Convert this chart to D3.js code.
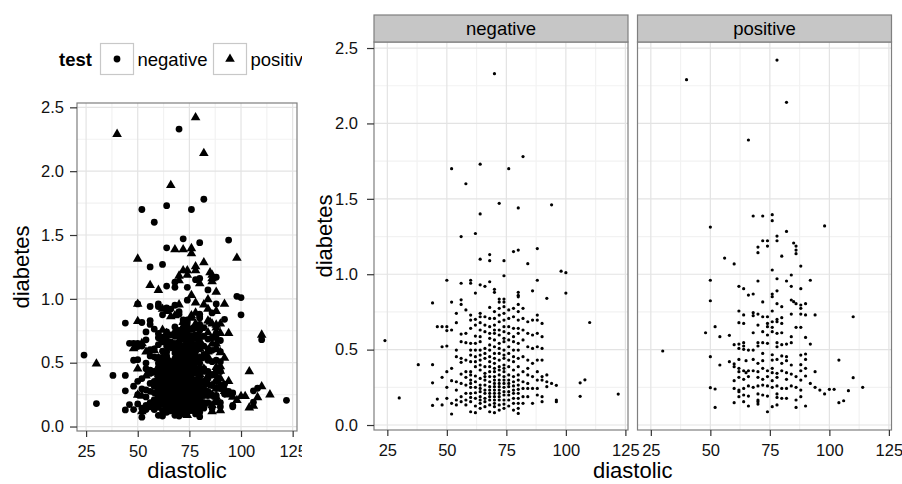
<!DOCTYPE html>
<html>
<head>
<meta charset="utf-8">
<script src="https://cdn.jsdelivr.net/npm/d3@7"></script>
<style>
  body { margin: 0; background: #fff; }
  svg { display: block; font-family: "Liberation Sans", Arial, Helvetica, sans-serif; }
</style>
</head>
<body>
<svg width="902" height="484"></svg>
<script>
const xTicks = [25, 50, 75, 100, 125];
const yTicks = [0, 0.5, 1, 1.5, 2, 2.5];
const xMinor = [37.5, 62.5, 87.5, 112.5];
const yMinor = [0.25, 0.75, 1.25, 1.75, 2.25];
const facets = ['negative', 'positive'];

// test = negative : isolated points
const negOutliers = [
  [24, 0.56], [30, 0.18], [38, 0.40], [44, 0.40], [44, 0.28], [44, 0.13],
  [106, 0.28], [108, 0.30], [106, 0.19], [122, 0.205], [110, 0.68]
];
// test = negative : upper part (diabetes >= 0.78)
const negUpper = [
  [70, 2.33], [82, 1.78], [52, 1.70], [64, 1.73], [76, 1.70], [58, 1.60], [72, 1.47], [80, 1.44],
  [94, 1.46], [64, 1.40], [56, 1.25], [62, 1.27], [88, 1.17], [68, 1.13], [78, 1.15], [80, 1.16],
  [64, 1.10], [68, 1.09], [74, 1.09], [84, 1.07], [98, 1.02], [100, 1.01], [74, 0.99], [50, 0.96],
  [56, 0.94], [60, 0.96], [60, 0.94], [68, 0.95], [88, 0.96], [64, 0.93], [66, 0.92], [70, 0.90],
  [70, 0.88], [62, 0.875], [86, 0.89], [100, 0.875], [80, 0.88], [80, 0.86], [80, 0.85], [92, 0.84],
  [44, 0.81], [52, 0.815], [56, 0.83], [56, 0.80], [72, 0.835], [72, 0.815], [74, 0.835], [74, 0.815],
  [68, 0.78], [80, 0.80]
];
// test = negative : dense core, one row per diastolic value
const negCore = [
  [46, [0.652, 0.172]],
  [48, [0.652, 0.519, 0.316, 0.133]],
  [50, [0.652, 0.626, 0.524, 0.354, 0.250, 0.177]],
  [52, [0.630, 0.376, 0.294, 0.144, 0.073]],
  [54, [0.741, 0.679, 0.497, 0.453, 0.287, 0.232, 0.166, 0.133]],
  [56, [0.603, 0.553, 0.442, 0.416, 0.338, 0.276, 0.188, 0.155]],
  [58, [0.763, 0.608, 0.546, 0.431, 0.354, 0.316, 0.265, 0.210, 0.166, 0.133]],
  [60, [0.729, 0.696, 0.641, 0.542, 0.497, 0.464, 0.420, 0.354, 0.332, 0.298, 0.276, 0.250, 0.210, 0.183, 0.155, 0.088]],
  [62, [0.701, 0.663, 0.590, 0.542, 0.497, 0.453, 0.420, 0.387, 0.325, 0.287, 0.250, 0.214, 0.177, 0.126, 0.082]],
  [64, [0.741, 0.718, 0.679, 0.630, 0.586, 0.553, 0.497, 0.464, 0.431, 0.398, 0.365, 0.309, 0.265, 0.243, 0.221, 0.188, 0.166, 0.144, 0.111]],
  [66, [0.718, 0.663, 0.619, 0.508, 0.475, 0.442, 0.387, 0.343, 0.321, 0.298, 0.265, 0.232, 0.210, 0.177, 0.155, 0.122]],
  [68, [0.707, 0.652, 0.608, 0.575, 0.531, 0.497, 0.453, 0.420, 0.387, 0.354, 0.321, 0.287, 0.254, 0.232, 0.210, 0.188, 0.166, 0.133, 0.088]],
  [70, [0.752, 0.707, 0.663, 0.630, 0.608, 0.564, 0.519, 0.475, 0.442, 0.409, 0.376, 0.354, 0.321, 0.298, 0.276, 0.254, 0.232, 0.210, 0.188, 0.166, 0.144, 0.122, 0.082]],
  [72, [0.774, 0.729, 0.685, 0.630, 0.597, 0.542, 0.508, 0.475, 0.431, 0.387, 0.365, 0.332, 0.298, 0.276, 0.254, 0.232, 0.210, 0.188, 0.166, 0.133, 0.099]],
  [74, [0.785, 0.741, 0.696, 0.652, 0.619, 0.575, 0.553, 0.497, 0.464, 0.442, 0.398, 0.376, 0.354, 0.321, 0.298, 0.276, 0.250, 0.221, 0.199, 0.166, 0.139, 0.111]],
  [76, [0.763, 0.707, 0.652, 0.608, 0.564, 0.519, 0.475, 0.431, 0.387, 0.332, 0.298, 0.276, 0.254, 0.221, 0.199, 0.166, 0.126]],
  [78, [0.774, 0.718, 0.641, 0.586, 0.553, 0.497, 0.453, 0.420, 0.365, 0.321, 0.287, 0.259, 0.232, 0.210, 0.177, 0.144, 0.099]],
  [80, [0.752, 0.696, 0.641, 0.608, 0.542, 0.497, 0.442, 0.387, 0.332, 0.298, 0.265, 0.237, 0.210, 0.177, 0.144, 0.111, 0.077]],
  [82, [0.774, 0.707, 0.630, 0.564, 0.453, 0.354, 0.287, 0.243, 0.188, 0.144]],
  [84, [0.685, 0.608, 0.519, 0.431, 0.376, 0.332, 0.276, 0.243, 0.188]],
  [86, [0.696, 0.597, 0.508, 0.409, 0.321, 0.243, 0.144]],
  [88, [0.729, 0.696, 0.608, 0.519, 0.431, 0.354, 0.298, 0.243, 0.199]],
  [90, [0.674, 0.586, 0.508, 0.431, 0.321, 0.298, 0.188, 0.155]],
  [92, [0.332, 0.287, 0.254]],
  [94, [0.276]],
  [96, [0.263, 0.166, 0.155]]
];

// test = positive : upper part
const posUpper = [
  [78, 2.42], [40, 2.29], [82, 2.14], [66, 1.89],
  [68, 1.386], [72, 1.386], [76, 1.395], [76, 1.355], [50, 1.313], [98, 1.32], [82, 1.284],
  [72, 1.222], [74, 1.222], [78, 1.222], [78, 1.253], [70, 1.18], [74, 1.187],
  [85, 1.207], [86, 1.187], [86, 1.16], [86, 1.136], [70, 1.143], [80, 1.12], [56, 1.107],
  [60, 1.068], [88, 1.054], [76, 1.028], [84, 0.995],
  [50, 0.96], [70, 0.955], [78, 0.97], [82, 0.955], [92, 0.96], [62, 0.92], [64, 0.904], [84, 0.92], [88, 0.904],
  [66, 0.862], [68, 0.869], [76, 0.869], [76, 0.851], [78, 0.89], [50, 0.824], [72, 0.816],
  [84, 0.829], [85, 0.818], [86, 0.805], [78, 0.805], [80, 0.785], [88, 0.796], [88, 0.774], [90, 0.805],
  [62, 0.756], [64, 0.73], [68, 0.745], [68, 0.725], [70, 0.736], [72, 0.718], [74, 0.718], [76, 0.756],
  [80, 0.712], [84, 0.736], [88, 0.736], [90, 0.73], [94, 0.73], [110, 0.718], [78, 0.70]
];
// test = positive : lower part
const posLower = [
  [62, 0.679], [64, 0.674], [70, 0.663], [74, 0.674], [76, 0.685], [78, 0.685], [80, 0.674],
  [52, 0.652], [74, 0.652], [76, 0.648], [86, 0.648], [88, 0.648],
  [48, 0.612], [54, 0.586], [58, 0.595], [68, 0.612], [72, 0.619], [74, 0.597], [76, 0.619], [78, 0.608],
  [80, 0.612], [84, 0.586], [90, 0.581],
  [60, 0.533], [62, 0.537], [64, 0.546], [64, 0.524], [70, 0.546], [70, 0.524], [72, 0.546], [74, 0.542],
  [78, 0.546], [78, 0.519], [80, 0.533], [82, 0.537], [84, 0.546], [92, 0.537],
  [30, 0.491], [62, 0.508], [64, 0.502], [66, 0.497], [68, 0.497], [72, 0.475], [76, 0.466], [80, 0.458],
  [82, 0.453], [88, 0.464], [90, 0.471], [50, 0.453],
  [58, 0.420], [60, 0.405], [62, 0.435], [65, 0.427], [68, 0.435], [70, 0.409], [72, 0.427], [76, 0.431],
  [78, 0.435], [80, 0.409], [82, 0.427], [84, 0.398], [88, 0.400], [90, 0.435], [104, 0.431], [54, 0.398],
  [60, 0.387], [62, 0.376], [62, 0.354], [64, 0.360], [66, 0.360], [68, 0.360], [70, 0.354], [72, 0.376],
  [74, 0.360], [76, 0.376], [76, 0.347], [78, 0.343], [80, 0.360], [82, 0.347], [84, 0.338], [88, 0.360],
  [90, 0.376], [94, 0.354], [65, 0.347],
  [60, 0.294], [62, 0.316], [64, 0.303], [66, 0.321], [70, 0.316], [72, 0.303], [74, 0.321], [76, 0.294],
  [78, 0.316], [82, 0.303], [86, 0.321], [88, 0.298], [90, 0.325], [92, 0.276], [110, 0.314],
  [50, 0.248], [52, 0.239], [60, 0.243], [62, 0.232], [64, 0.243], [66, 0.259], [68, 0.250], [70, 0.259],
  [72, 0.265], [74, 0.259], [76, 0.250], [78, 0.259], [80, 0.243], [82, 0.243], [84, 0.259], [86, 0.250],
  [88, 0.232], [94, 0.250], [96, 0.232], [100, 0.237], [102, 0.237], [108, 0.228], [114, 0.250], [98, 0.206],
  [62, 0.221], [62, 0.188], [64, 0.199], [66, 0.192], [70, 0.206], [72, 0.199], [74, 0.192], [78, 0.206],
  [78, 0.183], [80, 0.177], [82, 0.177], [86, 0.166], [88, 0.188], [70, 0.166],
  [60, 0.148], [64, 0.155], [66, 0.126], [70, 0.155], [70, 0.139], [76, 0.122], [78, 0.133], [86, 0.117],
  [90, 0.126], [52, 0.117], [104, 0.148], [106, 0.161], [74, 0.088]
];

const negative = negOutliers.concat(negUpper,
  negCore.flatMap(([dia, peds]) => peds.map(p => [dia, p])))
  .map(([diastolic, diabetes]) => ({ diastolic, diabetes, test: 'negative' }));
const positive = posUpper.concat(posLower)
  .map(([diastolic, diabetes]) => ({ diastolic, diabetes, test: 'positive' }));

const svg = d3.select('svg');
const border = '#7f7f7f';
const tickFont = 16.5;
const titleFont = 22;
const labelFont = 18.5;

svg.append('rect').attr('width', 902).attr('height', 484).attr('fill', '#fff');

const drawGrid = (g, x, y) => {
  const [x0, x1] = x.range();
  const [y1, y0] = y.range();
  g.append('rect')
    .attr('x', x0).attr('y', y0)
    .attr('width', x1 - x0).attr('height', y1 - y0)
    .attr('fill', '#fff');
  const lines = [
    { v: xMinor, vert: true, c: '#f2f2f2' },
    { v: yMinor, vert: false, c: '#f2f2f2' },
    { v: xTicks, vert: true, c: '#e3e3e3' },
    { v: yTicks, vert: false, c: '#e3e3e3' }
  ];
  lines.forEach(l => {
    g.append('g').selectAll('line')
      .data(l.v.filter(d => l.vert ? (x(d) > x0 && x(d) < x1) : (y(d) < y1 && y(d) > y0)))
      .enter().append('line')
      .attr('x1', d => l.vert ? x(d) : x0)
      .attr('x2', d => l.vert ? x(d) : x1)
      .attr('y1', d => l.vert ? y0 : y(d))
      .attr('y2', d => l.vert ? y1 : y(d))
      .attr('stroke', l.c)
      .attr('stroke-width', 1.2);
  });
};

const drawBorder = (g, x, y) => {
  const [x0, x1] = x.range();
  const [y1, y0] = y.range();
  g.append('rect')
    .attr('x', x0).attr('y', y0)
    .attr('width', x1 - x0).attr('height', y1 - y0)
    .attr('fill', 'none')
    .attr('stroke', border)
    .attr('stroke-width', 1.2);
};

const styleAxis = (sel) => {
  sel.select('.domain').remove();
  sel.selectAll('.tick line').attr('stroke', '#333').attr('stroke-width', 1.2);
  sel.selectAll('.tick text')
    .attr('fill', '#111')
    .style('font-family', '"Liberation Sans", Arial, Helvetica, sans-serif')
    .style('font-size', tickFont + 'px');
};

const xAxis = (g, x, y) => {
  g.append('g')
    .attr('transform', `translate(0, ${y.range()[0]})`)
    .call(d3.axisBottom(x).tickValues(xTicks).tickFormat(d3.format('d')).tickSize(6).tickPadding(8).tickSizeOuter(0))
    .call(styleAxis);
};

const yAxis = (g, x, y, pad) => {
  g.append('g')
    .attr('transform', `translate(${x.range()[0]}, 0)`)
    .call(d3.axisLeft(y).tickValues(yTicks).tickFormat(d3.format('.1f')).tickSize(7).tickPadding(pad).tickSizeOuter(0))
    .call(styleAxis);
};

// ---------- left plot: shapes by test ----------
svg.append('clipPath').attr('id', 'leftClip')
  .append('rect').attr('x', 0).attr('y', 0).attr('width', 302).attr('height', 484);

const left = svg.append('g').attr('clip-path', 'url(#leftClip)');
const xL = d3.scaleLinear().domain([20.6, 127.1]).range([77, 297]);
const yL = d3.scaleLinear().domain([-0.035, 2.534]).range([431, 103]);

drawGrid(left, xL, yL);

const tri = d3.symbol().type(d3.symbolTriangle).size(40);
left.append('g').selectAll('circle')
  .data(negative).enter().append('circle')
  .attr('cx', d => xL(d.diastolic))
  .attr('cy', d => yL(d.diabetes))
  .attr('r', 3.4)
  .attr('fill', '#000');
left.append('g').selectAll('path')
  .data(positive).enter().append('path')
  .attr('d', tri)
  .attr('transform', d => `translate(${xL(d.diastolic)}, ${yL(d.diabetes)})`)
  .attr('fill', '#000');

drawBorder(left, xL, yL);
xAxis(left, xL, yL);
yAxis(left, xL, yL, 6);

left.append('text')
  .attr('x', d3.mean(xL.range())).attr('y', 478)
  .attr('text-anchor', 'middle')
  .style('font-size', titleFont + 'px')
  .text('diastolic');
left.append('text')
  .attr('transform', `translate(29, ${d3.mean(yL.range())}) rotate(-90)`)
  .attr('text-anchor', 'middle')
  .style('font-size', titleFont + 'px')
  .text('diabetes');

// legend
const legend = left.append('g');
legend.append('text')
  .attr('x', 59).attr('y', 66)
  .style('font-size', labelFont + 'px')
  .style('font-weight', 'bold')
  .text('test');
const keyX = [100.5, 213.5];
facets.forEach((f, i) => {
  legend.append('rect')
    .attr('x', keyX[i]).attr('y', 43.5)
    .attr('width', 33).attr('height', 31)
    .attr('fill', '#fff')
    .attr('stroke', '#c8c8c8')
    .attr('stroke-width', 1.2);
  if (i === 0) {
    legend.append('circle').attr('cx', keyX[i] + 16.5).attr('cy', 59).attr('r', 3.4).attr('fill', '#000');
  } else {
    legend.append('path').attr('d', tri).attr('transform', `translate(${keyX[i] + 16.5}, 59)`).attr('fill', '#000');
  }
  legend.append('text')
    .attr('x', keyX[i] + 37).attr('y', 66)
    .style('font-size', labelFont + 'px')
    .text(f);
});

// ---------- right plot: facets ----------
const right = svg.append('g');
const yR = d3.scaleLinear().domain([-0.033, 2.54]).range([430, 42]);
const facetX = {
  negative: d3.scaleLinear().domain([19.4, 126.1]).range([374, 628]),
  positive: d3.scaleLinear().domain([19.4, 126.1]).range([637.5, 891.5])
};
const facetData = { negative, positive };

facets.forEach(f => {
  const x = facetX[f];
  const g = right.append('g');
  drawGrid(g, x, yR);
  g.append('g').selectAll('circle')
    .data(facetData[f]).enter().append('circle')
    .attr('cx', d => x(d.diastolic))
    .attr('cy', d => yR(d.diabetes))
    .attr('r', 1.6)
    .attr('fill', '#000');
  drawBorder(g, x, yR);
  xAxis(g, x, yR);
  // strip
  const [x0, x1] = x.range();
  g.append('rect')
    .attr('x', x0).attr('y', 15)
    .attr('width', x1 - x0).attr('height', 27)
    .attr('fill', '#c6c6c6')
    .attr('stroke', border)
    .attr('stroke-width', 1.2);
  g.append('text')
    .attr('x', (x0 + x1) / 2).attr('y', 34.5)
    .attr('text-anchor', 'middle')
    .style('font-size', labelFont + 'px')
    .text(f);
});
yAxis(right, facetX.negative, yR, 9);

right.append('text')
  .attr('x', (374 + 891.5) / 2).attr('y', 478)
  .attr('text-anchor', 'middle')
  .style('font-size', titleFont + 'px')
  .text('diastolic');
right.append('text')
  .attr('transform', `translate(332, ${d3.mean(yR.range())}) rotate(-90)`)
  .attr('text-anchor', 'middle')
  .style('font-size', titleFont + 'px')
  .text('diabetes');
</script>
</body>
</html>
